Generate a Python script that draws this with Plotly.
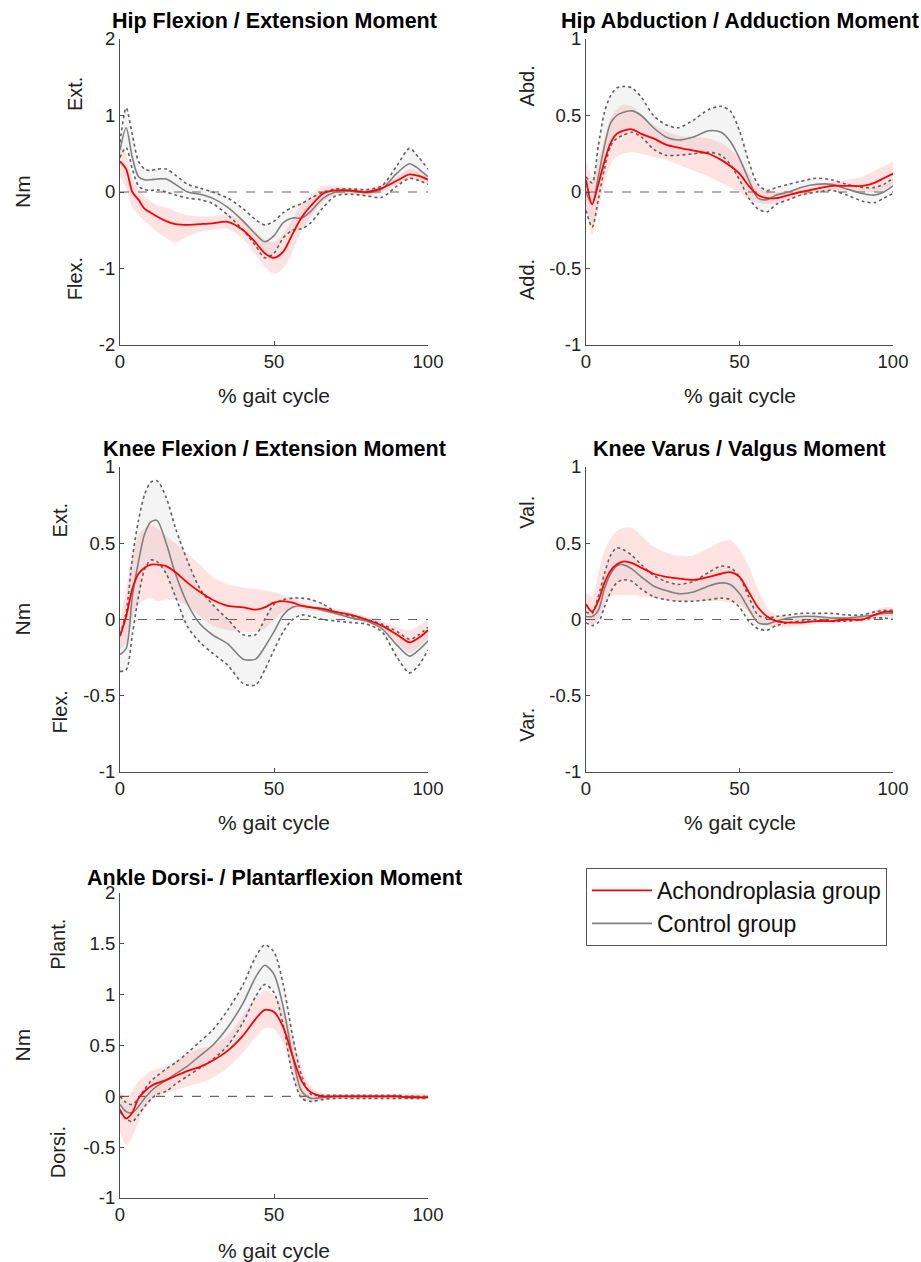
import plotly.graph_objects as go

W, H = 921, 1262

# % gait cycle sample points
pct = [0, 2, 4, 6, 8, 10, 12, 15, 18, 22, 26, 30, 35, 40, 44, 47, 50, 53, 56, 59, 62, 66, 70, 75, 80, 85, 90, 94, 97, 100]

# ---------------- Hip Flexion / Extension Moment ----------------
hf_ctrl_mean = [0.55, 0.84, 0.45, 0.2, 0.16, 0.16, 0.17, 0.17, 0.1, 0.0, -0.03, -0.08, -0.2, -0.38, -0.55, -0.65, -0.57, -0.4, -0.34, -0.34, -0.25, -0.08, 0.0, 0.01, -0.01, 0.04, 0.25, 0.37, 0.3, 0.2]
hf_ctrl_hi = [0.65, 1.1, 0.75, 0.4, 0.3, 0.28, 0.3, 0.3, 0.22, 0.1, 0.05, 0.0, -0.08, -0.22, -0.36, -0.43, -0.38, -0.27, -0.2, -0.15, -0.08, 0.0, 0.04, 0.04, 0.03, 0.08, 0.35, 0.57, 0.45, 0.3]
hf_ctrl_lo = [0.45, 0.58, 0.3, 0.08, 0.03, 0.02, 0.03, 0.0, -0.04, -0.08, -0.1, -0.15, -0.3, -0.5, -0.7, -0.86, -0.8, -0.6, -0.5, -0.48, -0.4, -0.2, -0.05, -0.03, -0.05, -0.07, 0.08, 0.18, 0.15, 0.1]
hf_ach_mean = [0.4, 0.3, 0.0, -0.1, -0.22, -0.27, -0.32, -0.38, -0.42, -0.43, -0.42, -0.41, -0.39, -0.5, -0.66, -0.8, -0.86, -0.78, -0.55, -0.33, -0.18, -0.02, 0.02, 0.02, 0.0, 0.05, 0.15, 0.23, 0.21, 0.16]
hf_ach_hi = [0.6, 0.5, 0.2, 0.05, -0.07, -0.12, -0.17, -0.2, -0.25, -0.3, -0.32, -0.32, -0.3, -0.38, -0.52, -0.62, -0.66, -0.55, -0.35, -0.15, -0.03, 0.08, 0.08, 0.06, 0.05, 0.1, 0.2, 0.3, 0.27, 0.22]
hf_ach_lo = [0.2, 0.05, -0.2, -0.3, -0.38, -0.45, -0.52, -0.6, -0.66, -0.58, -0.52, -0.5, -0.48, -0.62, -0.82, -0.98, -1.07, -1.0, -0.78, -0.5, -0.32, -0.12, -0.04, -0.03, -0.05, 0.0, 0.1, 0.16, 0.14, 0.1]

# ---------------- Hip Abduction / Adduction Moment ----------------
ha_ctrl_mean = [0.0, -0.08, 0.1, 0.3, 0.45, 0.5, 0.52, 0.53, 0.5, 0.42, 0.36, 0.34, 0.36, 0.4, 0.39, 0.33, 0.22, 0.08, -0.04, -0.05, -0.02, 0.0, 0.03, 0.05, 0.05, 0.02, -0.01, -0.02, 0.0, 0.04]
ha_ctrl_hi = [0.1, 0.06, 0.3, 0.52, 0.63, 0.68, 0.69, 0.68, 0.62, 0.5, 0.44, 0.42, 0.47, 0.54, 0.56, 0.53, 0.4, 0.2, 0.05, 0.01, 0.03, 0.05, 0.07, 0.09, 0.08, 0.05, 0.03, 0.03, 0.05, 0.09]
ha_ctrl_lo = [-0.12, -0.23, -0.05, 0.15, 0.3, 0.35, 0.37, 0.39, 0.36, 0.28, 0.24, 0.24, 0.25, 0.26, 0.24, 0.18, 0.08, -0.04, -0.11, -0.13, -0.08, -0.05, -0.02, 0.0, 0.01, -0.02, -0.06, -0.07, -0.04, -0.01]
ha_ach_mean = [0.08, -0.08, 0.05, 0.2, 0.32, 0.38, 0.4, 0.41, 0.38, 0.35, 0.31, 0.29, 0.27, 0.25, 0.21, 0.17, 0.12, 0.04, -0.02, -0.04, -0.04, -0.02, 0.0, 0.02, 0.04, 0.04, 0.04, 0.06, 0.09, 0.12]
ha_ach_hi = [0.2, 0.1, 0.2, 0.35, 0.48, 0.54, 0.57, 0.56, 0.5, 0.44, 0.4, 0.37, 0.36, 0.35, 0.32, 0.28, 0.22, 0.12, 0.04, 0.01, 0.0, 0.01, 0.02, 0.04, 0.06, 0.08, 0.1, 0.14, 0.17, 0.2]
ha_ach_lo = [-0.05, -0.28, -0.12, 0.05, 0.18, 0.23, 0.25, 0.26, 0.25, 0.23, 0.21, 0.18, 0.14, 0.1, 0.06, 0.03, 0.0, -0.05, -0.07, -0.08, -0.07, -0.05, -0.03, -0.01, 0.01, 0.01, 0.0, 0.0, 0.02, 0.04]

# ---------------- Knee Flexion / Extension Moment ----------------
kf_ctrl_mean = [-0.23, -0.19, 0.15, 0.38, 0.56, 0.64, 0.65, 0.5, 0.3, 0.1, -0.03, -0.1, -0.16, -0.26, -0.26, -0.18, -0.08, 0.03, 0.08, 0.09, 0.08, 0.06, 0.04, 0.01, -0.01, -0.06, -0.17, -0.24, -0.2, -0.14]
kf_ctrl_hi = [-0.1, 0.05, 0.4, 0.65, 0.82, 0.9, 0.91, 0.8, 0.6, 0.38, 0.2, 0.1, 0.0, -0.1, -0.1, 0.0, 0.1, 0.13, 0.14, 0.14, 0.13, 0.1, 0.05, 0.02, 0.0, -0.03, -0.08, -0.13, -0.1, -0.05]
kf_ctrl_lo = [-0.34, -0.33, -0.1, 0.15, 0.33, 0.39, 0.38, 0.3, 0.15, -0.05, -0.15, -0.22, -0.3, -0.42, -0.43, -0.33, -0.2, -0.08, 0.0, 0.03, 0.02, 0.0, -0.01, -0.02, -0.03, -0.08, -0.25, -0.35, -0.3, -0.2]
kf_ach_mean = [-0.11, 0.02, 0.2, 0.3, 0.34, 0.36, 0.36, 0.35, 0.31, 0.24, 0.18, 0.13, 0.09, 0.08, 0.065, 0.08, 0.11, 0.12, 0.11, 0.09, 0.08, 0.07, 0.05, 0.03, 0.0, -0.04, -0.1, -0.15, -0.12, -0.07]
kf_ach_hi = [0.0, 0.2, 0.42, 0.55, 0.6, 0.62, 0.6, 0.55, 0.5, 0.43, 0.36, 0.28, 0.23, 0.21, 0.2, 0.19, 0.18, 0.16, 0.14, 0.11, 0.09, 0.08, 0.07, 0.05, 0.02, -0.01, -0.05, -0.07, -0.04, 0.0]
kf_ach_lo = [-0.2, -0.15, 0.0, 0.1, 0.13, 0.14, 0.12, 0.13, 0.13, 0.09, 0.02, -0.04, -0.07, -0.08, -0.08, -0.06, 0.0, 0.05, 0.07, 0.07, 0.06, 0.05, 0.03, 0.01, -0.02, -0.06, -0.15, -0.22, -0.18, -0.12]

# ---------------- Knee Varus / Valgus Moment ----------------
kv_ctrl_mean = [0.02, 0.02, 0.06, 0.2, 0.3, 0.35, 0.36, 0.33, 0.28, 0.22, 0.19, 0.17, 0.18, 0.22, 0.24, 0.23, 0.17, 0.07, -0.02, -0.03, -0.01, 0.01, 0.02, 0.02, 0.01, 0.01, 0.02, 0.03, 0.04, 0.04]
kv_ctrl_hi = [0.05, 0.04, 0.15, 0.3, 0.42, 0.47, 0.46, 0.42, 0.36, 0.29, 0.25, 0.23, 0.25, 0.31, 0.35, 0.34, 0.28, 0.15, 0.03, 0.01, 0.02, 0.03, 0.04, 0.04, 0.04, 0.03, 0.03, 0.05, 0.06, 0.06]
kv_ctrl_lo = [-0.02, -0.04, -0.02, 0.08, 0.18, 0.24, 0.26, 0.25, 0.2, 0.15, 0.13, 0.12, 0.12, 0.13, 0.14, 0.13, 0.08, -0.01, -0.06, -0.07, -0.04, -0.02, -0.01, 0.0, -0.01, -0.01, 0.0, 0.01, 0.01, 0.0]
kv_ach_mean = [0.1, 0.05, 0.12, 0.24, 0.32, 0.36, 0.38, 0.37, 0.34, 0.3, 0.28, 0.27, 0.26, 0.28, 0.3, 0.31, 0.28, 0.18, 0.08, 0.02, -0.01, -0.02, -0.02, -0.01, -0.01, 0.0, 0.0, 0.03, 0.05, 0.05]
kv_ach_hi = [0.18, 0.15, 0.3, 0.45, 0.53, 0.58, 0.6, 0.6, 0.55, 0.48, 0.44, 0.42, 0.42, 0.47, 0.51, 0.52, 0.46, 0.35, 0.2, 0.08, 0.03, 0.02, 0.02, 0.02, 0.02, 0.02, 0.03, 0.06, 0.08, 0.08]
kv_ach_lo = [0.0, -0.04, 0.0, 0.1, 0.15, 0.16, 0.16, 0.16, 0.15, 0.14, 0.13, 0.12, 0.12, 0.12, 0.12, 0.11, 0.1, 0.05, -0.02, -0.04, -0.05, -0.05, -0.04, -0.03, -0.03, -0.02, -0.02, 0.0, 0.02, 0.02]

# ---------------- Ankle Dorsi- / Plantarflexion Moment ----------------
ad_ctrl_mean = [-0.08, -0.15, -0.16, -0.1, -0.02, 0.05, 0.1, 0.16, 0.22, 0.3, 0.4, 0.5, 0.68, 0.92, 1.17, 1.29, 1.2, 0.88, 0.4, 0.05, -0.02, -0.01, 0.0, 0.0, 0.0, 0.0, 0.0, -0.01, -0.01, -0.01]
ad_ctrl_hi = [0.0, -0.06, -0.08, -0.02, 0.07, 0.15, 0.2, 0.27, 0.33, 0.43, 0.54, 0.65, 0.85, 1.1, 1.37, 1.49, 1.42, 1.1, 0.6, 0.2, 0.02, 0.01, 0.01, 0.01, 0.01, 0.01, 0.01, 0.0, 0.0, 0.0]
ad_ctrl_lo = [-0.15, -0.22, -0.25, -0.18, -0.1, -0.03, 0.02, 0.05, 0.12, 0.2, 0.28, 0.36, 0.5, 0.73, 0.98, 1.1, 1.02, 0.7, 0.22, -0.02, -0.05, -0.03, -0.02, -0.02, -0.02, -0.02, -0.02, -0.02, -0.02, -0.02]
ad_ach_mean = [-0.13, -0.22, -0.16, -0.02, 0.05, 0.1, 0.13, 0.16, 0.2, 0.25, 0.29, 0.35, 0.45, 0.6, 0.76, 0.85, 0.83, 0.68, 0.4, 0.15, 0.04, 0.0, 0.0, 0.0, 0.0, 0.0, 0.0, -0.01, -0.01, -0.01]
ad_ach_hi = [0.05, 0.0, 0.05, 0.15, 0.2, 0.25, 0.27, 0.3, 0.35, 0.42, 0.47, 0.5, 0.6, 0.8, 0.97, 1.04, 1.0, 0.85, 0.6, 0.3, 0.1, 0.03, 0.02, 0.02, 0.02, 0.02, 0.02, 0.03, 0.03, 0.02]
ad_ach_lo = [-0.35, -0.48, -0.4, -0.25, -0.12, -0.05, 0.0, 0.03, 0.06, 0.1, 0.13, 0.18, 0.28, 0.43, 0.58, 0.67, 0.66, 0.52, 0.2, -0.02, -0.06, -0.04, -0.03, -0.03, -0.03, -0.03, -0.03, -0.03, -0.03, -0.03]

# Titles, labels and ticks
titles = ["Hip Flexion / Extension Moment", "Hip Abduction / Adduction Moment",
          "Knee Flexion / Extension Moment", "Knee Varus / Valgus Moment",
          "Ankle Dorsi- / Plantarflexion Moment"]
pos_labels = ["Ext.", "Abd.", "Ext.", "Val.", "Plant."]
neg_labels = ["Flex.", "Add.", "Flex.", "Var.", "Dorsi."]
yticks_hf = [-2, -1, 0, 1, 2]
yticks_half = [-1, -0.5, 0, 0.5, 1]
yticks_ankle = [-1, -0.5, 0, 0.5, 1, 1.5, 2]
xticks = [0, 50, 100]
legend_names = ["Achondroplasia group", "Control group"]

panels = [
    (hf_ach_mean, hf_ach_hi, hf_ach_lo, hf_ctrl_mean, hf_ctrl_hi, hf_ctrl_lo, yticks_hf),
    (ha_ach_mean, ha_ach_hi, ha_ach_lo, ha_ctrl_mean, ha_ctrl_hi, ha_ctrl_lo, yticks_half),
    (kf_ach_mean, kf_ach_hi, kf_ach_lo, kf_ctrl_mean, kf_ctrl_hi, kf_ctrl_lo, yticks_half),
    (kv_ach_mean, kv_ach_hi, kv_ach_lo, kv_ctrl_mean, kv_ctrl_hi, kv_ctrl_lo, yticks_half),
    (ad_ach_mean, ad_ach_hi, ad_ach_lo, ad_ctrl_mean, ad_ctrl_hi, ad_ctrl_lo, yticks_ankle),
]

# layout geometry (pixels)
col_x = [(120, 428), (586, 893)]
row_y = [(39, 345), (467, 772), (893, 1198)]
title_y = [21, 449, 878]
xlab_y = [395, 822, 1250]
dir_x = [75, 527, 60, 527, 58]
pos_val = [1.28, 0.69, 0.65, 0.70, 1.49]
neg_val = [-1.14, -0.575, -0.61, -0.69, -0.55]

FONT = "Liberation Sans, Arial, sans-serif"
RED = "#ff0000"
GREY = "#808080"
DOT = "#606060"
AXC = "#4d4d4d"

fig = go.Figure()
annotations = []
shapes = []
layout_axes = {}

for i, (am, ah, al, cm, ch, cl, yt) in enumerate(panels):
    r, c = divmod(i, 2)
    n = i + 1
    xa = "x" if n == 1 else f"x{n}"
    ya = "y" if n == 1 else f"y{n}"
    x0, x1 = col_x[c]
    y0, y1 = row_y[r]
    layout_axes["xaxis" if n == 1 else f"xaxis{n}"] = dict(
        domain=[x0 / W, x1 / W], range=[0, 100], anchor=ya, automargin=False,
        tickvals=xticks, ticktext=[str(v) for v in xticks],
        ticks="inside", ticklen=4, tickcolor=AXC, showline=True, linecolor=AXC, linewidth=1.2,
        showgrid=False, zeroline=False, tickfont=dict(family=FONT, size=18.5, color="#222"),
        fixedrange=True)
    layout_axes["yaxis" if n == 1 else f"yaxis{n}"] = dict(
        domain=[1 - y1 / H, 1 - y0 / H], range=[yt[0], yt[-1]], anchor=xa, automargin=False,
        tickvals=yt, ticktext=[("%g" % v) for v in yt],
        ticks="inside", ticklen=4, tickcolor=AXC, showline=True, linecolor=AXC, linewidth=1.2,
        showgrid=False, zeroline=False, tickfont=dict(family=FONT, size=18.5, color="#222"),
        fixedrange=True)

    # Achondroplasia band
    fig.add_trace(go.Scatter(x=pct, y=al, xaxis=xa, yaxis=ya, mode="lines",
                             line=dict(width=0, shape="spline", smoothing=0.8), showlegend=False, hoverinfo="skip"))
    fig.add_trace(go.Scatter(x=pct, y=ah, xaxis=xa, yaxis=ya, mode="lines", fill="tonexty",
                             fillcolor="rgba(255,0,0,0.11)",
                             line=dict(width=0, shape="spline", smoothing=0.8), showlegend=False, hoverinfo="skip"))
    # Control band with dotted edges
    fig.add_trace(go.Scatter(x=pct, y=cl, xaxis=xa, yaxis=ya, mode="lines",
                             line=dict(width=1.6, color=DOT, dash="dot", shape="spline", smoothing=0.8),
                             showlegend=False, hoverinfo="skip"))
    fig.add_trace(go.Scatter(x=pct, y=ch, xaxis=xa, yaxis=ya, mode="lines", fill="tonexty",
                             fillcolor="rgba(128,128,128,0.09)",
                             line=dict(width=1.6, color=DOT, dash="dot", shape="spline", smoothing=0.8),
                             showlegend=False, hoverinfo="skip"))
    # means
    fig.add_trace(go.Scatter(x=pct, y=cm, xaxis=xa, yaxis=ya, mode="lines", name=legend_names[1],
                             line=dict(width=1.6, color=GREY, shape="spline", smoothing=0.8),
                             showlegend=(n == 1)))
    fig.add_trace(go.Scatter(x=pct, y=am, xaxis=xa, yaxis=ya, mode="lines", name=legend_names[0],
                             line=dict(width=1.8, color=RED, shape="spline", smoothing=0.8),
                             showlegend=(n == 1)))

    shapes.append(dict(type="line", xref=xa, yref=ya, x0=0, x1=100, y0=0, y1=0,
                       line=dict(color="#666666", width=1.2, dash="dash"), layer="below"))

    cx = (x0 + x1) / 2 / W
    annotations.append(dict(text="<b>%s</b>" % titles[i], xref="paper", yref="paper",
                            x=cx, y=1 - title_y[r] / H, showarrow=False, xanchor="center", yanchor="middle",
                            font=dict(family=FONT, size=21.5, color="#000")))
    annotations.append(dict(text="% gait cycle", xref="paper", yref="paper",
                            x=cx, y=1 - xlab_y[r] / H, showarrow=False, xanchor="center", yanchor="middle",
                            font=dict(family=FONT, size=21, color="#222")))
    annotations.append(dict(text=pos_labels[i], xref="paper", yref=ya, x=dir_x[i] / W, y=pos_val[i],
                            showarrow=False, textangle=-90, xanchor="center", yanchor="middle",
                            font=dict(family=FONT, size=20, color="#222")))
    annotations.append(dict(text=neg_labels[i], xref="paper", yref=ya, x=dir_x[i] / W, y=neg_val[i],
                            showarrow=False, textangle=-90, xanchor="center", yanchor="middle",
                            font=dict(family=FONT, size=20, color="#222")))
    if c == 0:
        annotations.append(dict(text="Nm", xref="paper", yref="paper", x=22 / W,
                                y=1 - (y0 + y1) / 2 / H, showarrow=False, textangle=-90,
                                xanchor="center", yanchor="middle",
                                font=dict(family=FONT, size=21, color="#222")))

fig.update_layout(
    template="none",
    width=W, height=H, margin=dict(l=0, r=0, t=0, b=0, pad=0, autoexpand=False),
    paper_bgcolor="white", plot_bgcolor="white",
    showlegend=True,
    legend=dict(x=586 / W, y=1 - 868 / H, xanchor="left", yanchor="top",
                bgcolor="white", bordercolor="#555555", borderwidth=1,
                font=dict(family=FONT, size=23, color="#111"), itemwidth=60,
                traceorder="reversed", tracegroupgap=0),
    annotations=annotations, shapes=shapes,
    **layout_axes,
)

fig.write_html("out.html", config={"displayModeBar": False},
               post_script="document.body.style.margin='0';document.body.style.padding='0';"
                           "document.documentElement.style.overflow='hidden';")
